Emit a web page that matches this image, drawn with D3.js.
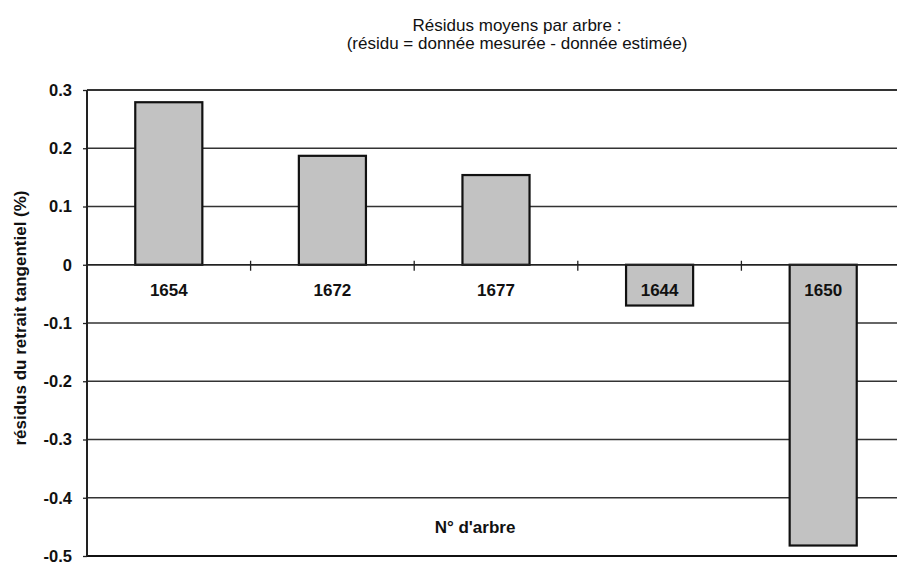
<!DOCTYPE html>
<html>
<head>
<meta charset="utf-8">
<script src="https://cdn.jsdelivr.net/npm/d3@7"></script>
<style>
  html, body { margin: 0; padding: 0; background: #fff; }
  svg { display: block; }
  text { font-family: "Liberation Sans", Arial, sans-serif; fill: #111; }
</style>
</head>
<body>
<svg id="chart" width="897" height="564"></svg>
<script>
// Mean residual of tangential shrinkage per tree
const trees = ["1654", "1672", "1677", "1644", "1650"];
const residuals = [0.279, 0.187, 0.154, -0.070, -0.482];
const yTicks = [0.3, 0.2, 0.1, 0, -0.1, -0.2, -0.3, -0.4, -0.5];
const titleLines = ["Résidus moyens par arbre :", "(résidu = donnée mesurée - donnée estimée)"];
const yTitle = "résidus du retrait tangentiel (%)";
const xTitle = "N° d'arbre";

const svg = d3.select("#chart");
const plot = { left: 87, right: 905, top: 90, bottom: 556 };

const x = d3.scaleBand().domain(trees).range([plot.left, plot.right]).padding(0);
const y = d3.scaleLinear().domain([-0.5, 0.3]).range([plot.bottom, plot.top]);
const barW = x.bandwidth() * 0.41;

// tick labels use a plain hyphen for negatives
const fmt = d => (d === 0 ? "0" : d3.format(".1f")(d).replace("\u2212", "-"));

// horizontal gridlines
svg.append("g")
  .selectAll("line")
  .data(yTicks)
  .join("line")
  .attr("x1", plot.left).attr("x2", plot.right)
  .attr("y1", d => y(d)).attr("y2", d => y(d))
  .attr("stroke", d => (d === -0.5 ? "#111" : "#333"))
  .attr("stroke-width", d => (d === -0.5 || d === 0.3 ? 2 : 1.3));

// left axis line
svg.append("line")
  .attr("x1", plot.left).attr("x2", plot.left)
  .attr("y1", plot.top).attr("y2", plot.bottom)
  .attr("stroke", "#222").attr("stroke-width", 2);

// y tick labels
const yAxis = d3.axisLeft(y).tickValues(yTicks).tickSize(4).tickFormat(fmt);
svg.append("g")
  .attr("transform", `translate(${plot.left},0)`)
  .call(yAxis)
  .call(g => g.select(".domain").remove())
  .call(g => g.selectAll(".tick line").attr("stroke", "#222").attr("stroke-width", 1.3))
  .call(g => g.selectAll(".tick text")
    .attr("x", -15)
    .attr("font-size", 16.5)
    .attr("font-weight", "bold")
    .attr("fill", "#111")
    .attr("font-family", "'Liberation Sans', Arial, sans-serif"));

// bars
svg.append("g")
  .selectAll("rect")
  .data(trees.map((t, i) => ({ t, v: residuals[i] })))
  .join("rect")
  .attr("x", d => x(d.t) + x.bandwidth() / 2 - barW / 2)
  .attr("width", barW)
  .attr("y", d => y(Math.max(0, d.v)))
  .attr("height", d => Math.abs(y(d.v) - y(0)))
  .attr("fill", "#c2c2c2")
  .attr("stroke", "#111")
  .attr("stroke-width", 2.2);

// zero line with cross tick marks between categories
svg.append("line")
  .attr("x1", plot.left).attr("x2", plot.right)
  .attr("y1", y(0)).attr("y2", y(0))
  .attr("stroke", "#222").attr("stroke-width", 1.6);

const xAxis = d3.axisBottom(x).tickSize(0).tickFormat(d => d);
svg.append("g")
  .attr("transform", `translate(0,${y(0)})`)
  .call(xAxis)
  .call(g => g.select(".domain").remove())
  .call(g => g.selectAll(".tick text")
    .attr("y", 31)
    .attr("dy", 0)
    .attr("font-size", 17)
    .attr("font-weight", "bold")
    .attr("fill", "#111")
    .attr("font-family", "'Liberation Sans', Arial, sans-serif"));

svg.append("g")
  .selectAll("line")
  .data(trees.slice(1))
  .join("line")
  .attr("x1", d => x(d)).attr("x2", d => x(d))
  .attr("y1", y(0) - 4).attr("y2", y(0) + 6)
  .attr("stroke", "#222").attr("stroke-width", 1.3);

// titles
svg.append("g")
  .selectAll("text")
  .data(titleLines)
  .join("text")
  .attr("x", 517)
  .attr("y", (d, i) => 31 + i * 18)
  .attr("text-anchor", "middle")
  .attr("font-size", 17)
  .text(d => d);

svg.append("text")
  .attr("transform", `translate(26,318) rotate(-90)`)
  .attr("text-anchor", "middle")
  .attr("font-size", 17)
  .attr("font-weight", "bold")
  .text(yTitle);

svg.append("text")
  .attr("x", 475)
  .attr("y", 533)
  .attr("text-anchor", "middle")
  .attr("font-size", 17)
  .attr("font-weight", "bold")
  .text(xTitle);
</script>
</body>
</html>
